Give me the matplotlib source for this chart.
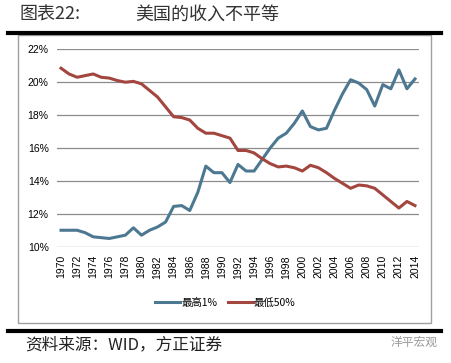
import matplotlib
matplotlib.use("Agg")
import matplotlib.pyplot as plt
from matplotlib.patches import Rectangle
from matplotlib.lines import Line2D

plt.rcParams['font.family'] = ['Noto Sans CJK SC', 'DejaVu Sans']

# 数据
years = list(range(1970, 2015))
top1 = [11.0, 11.0, 11.0, 10.85, 10.6, 10.55, 10.5, 10.6, 10.7, 11.15,
        10.7, 11.0, 11.2, 11.5, 12.45, 12.5, 12.2, 13.3, 14.9, 14.5,
        14.5, 13.9, 15.0, 14.6, 14.6, 15.3, 16.0, 16.6, 16.9, 17.5,
        18.25, 17.3, 17.1, 17.2, 18.3, 19.3, 20.15, 19.95, 19.55, 18.55,
        19.85, 19.6, 20.75, 19.6, 20.2]
bottom50 = [20.85, 20.5, 20.3, 20.4, 20.5, 20.3, 20.25, 20.1, 20.0, 20.05,
            19.9, 19.5, 19.1, 18.5, 17.9, 17.85, 17.7, 17.2, 16.9, 16.9,
            16.75, 16.6, 15.85, 15.85, 15.7, 15.35, 15.05, 14.85, 14.9, 14.8,
            14.6, 14.95, 14.8, 14.5, 14.15, 13.85, 13.55, 13.75, 13.7, 13.55,
            13.15, 12.75, 12.35, 12.75, 12.5]
yticks = [10, 12, 14, 16, 18, 20, 22]
series_names = ['最高1%', '最低50%']
title_left = '图表22:'
title_right = '美国的收入不平等'
source = '资料来源：WID，方正证券'
watermark = '洋平宏观'

blue = '#4d7891'
red = '#a3463f'

fig = plt.figure(figsize=(4.52, 3.63), dpi=100)

# 外框和黑色横线
fig.patches.append(Rectangle((18 / 452, 1 - 323 / 363), 413 / 452, 288 / 363,
                             transform=fig.transFigure, fill=False,
                             edgecolor='#a0a0a0', linewidth=1.0))
fig.add_artist(Line2D([8 / 452, 441 / 452], [1 - 33 / 363] * 2,
                      color='black', linewidth=3.0))
fig.add_artist(Line2D([8 / 452, 441 / 452], [1 - 331 / 363] * 2,
                      color='black', linewidth=3.0))

ax = fig.add_axes([57 / 452, 1 - 246.7 / 363, 362 / 452, 197.4 / 363])
ax.plot(years, top1, color=blue, linewidth=2.2, label=series_names[0])
ax.plot(years, bottom50, color=red, linewidth=2.2, label=series_names[1])

ax.set_xlim(1969.5, 2014.5)
ax.set_ylim(10, 22)
ax.set_yticks(yticks)
ax.set_yticklabels([f'{v}%' for v in yticks], fontsize=7.5, family='Liberation Sans')
ax.set_xticks(years[::2])
ax.set_xticklabels([str(y) for y in years[::2]], rotation=90, fontsize=7.5,
                   family='Liberation Sans')
ax.tick_params(length=0, pad=6)
ax.grid(axis='y', color='#8c8c8c', linewidth=0.9)
ax.set_axisbelow(True)
for s in ax.spines.values():
    s.set_visible(False)

ax.legend(loc='upper center', bbox_to_anchor=(0.465, -0.21), ncol=2,
          frameon=False, fontsize=7.5, handlelength=2.4, handletextpad=0.1,
          columnspacing=1.0)

fig.text(20 / 452, 1 - 15 / 363, title_left, fontsize=13, va='center',
         color='#333333')
fig.text(135 / 452, 1 - 15 / 363, title_right, fontsize=13, va='center',
         color='#333333')
fig.text(25 / 452, 1 - 345 / 363, source, fontsize=12, va='center',
         style='italic', color='#222222')
fig.text(438 / 452, 1 - 342 / 363, watermark, fontsize=8.5, va='center',
         ha='right', color='#9a9a9a')

fig.savefig('out.png', dpi=100)
